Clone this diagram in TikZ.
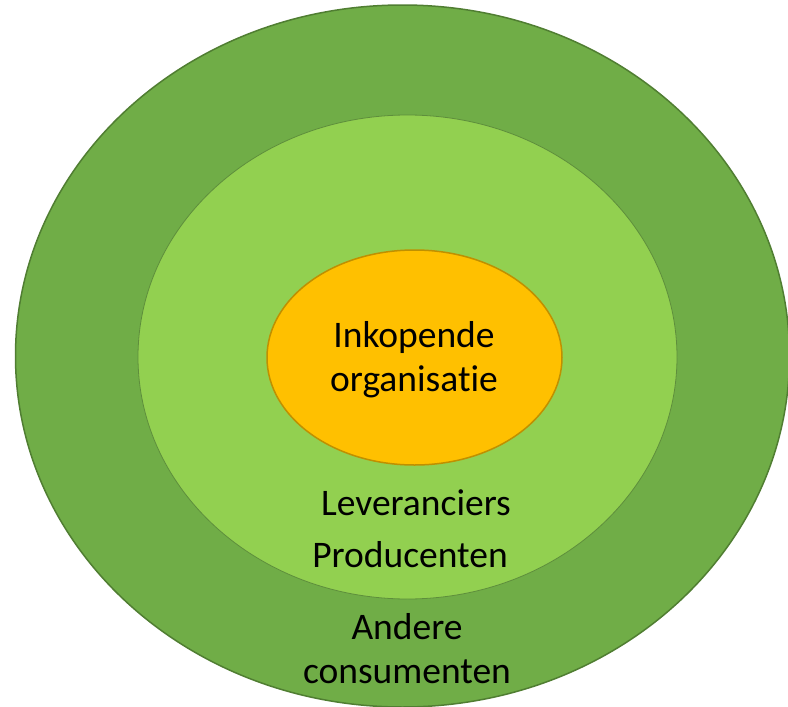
\documentclass[tikz,border=0pt]{standalone}
\usepackage{fontspec}
\setmainfont{Carlito}[Ligatures={NoCommon}]
\definecolor{outerg}{HTML}{70AD47}
\definecolor{outerb}{HTML}{507E32}
\definecolor{midg}{HTML}{92D050}
\definecolor{midb}{HTML}{5E8E3C}
\definecolor{inny}{HTML}{FFC000}
\definecolor{innb}{HTML}{BF9000}
\begin{document}
\begin{tikzpicture}[x=1pt,y=-1pt,
  lbl/.style={inner sep=0pt,align=center,font=\fontsize{37.5}{44}\selectfont,text=black}]
\useasboundingbox (0,0) rectangle (788,707);
\clip (0,0) rectangle (788,707);
\fill[white] (0,0) rectangle (788,707);
\draw[fill=outerg,draw=outerb,line width=1.5pt] (402.5,356) ellipse [x radius=387, y radius=351];
\draw[fill=midg,draw=midb,line width=0.8pt] (407.5,357) ellipse [x radius=269.5, y radius=242];
\draw[fill=inny,draw=innb,line width=1.5pt] (414.5,357.5) ellipse [x radius=147.5, y radius=107.5];
\node[lbl] (inko) at (414,360) {Inkopende\\organisatie};
\node[lbl,anchor=base] (lev) at (416,515) {Leveranciers};
\node[lbl,anchor=base] (prod) at (410,567) {Producenten};
\node[lbl] (andere) at (407,649) {Andere\\consumenten};
\end{tikzpicture}
\end{document}
